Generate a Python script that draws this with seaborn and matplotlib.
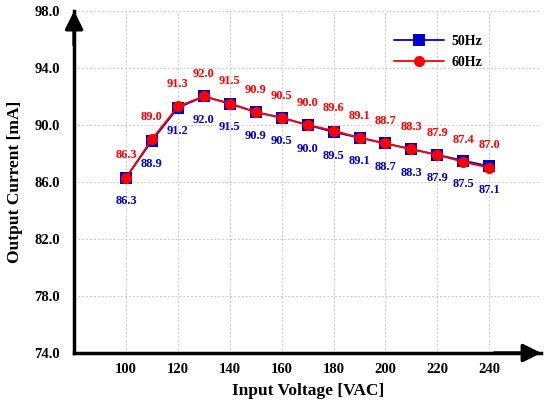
import matplotlib
matplotlib.use("Agg")
import matplotlib.pyplot as plt
import seaborn as sns
import pandas as pd

voltage = [100, 110, 120, 130, 140, 150, 160, 170, 180, 190, 200, 210, 220, 230, 240]
current_50hz = [86.3, 88.9, 91.2, 92.0, 91.5, 90.9, 90.5, 90.0, 89.5, 89.1, 88.7, 88.3, 87.9, 87.5, 87.1]
current_60hz = [86.3, 89.0, 91.3, 92.0, 91.5, 90.9, 90.5, 90.0, 89.6, 89.1, 88.7, 88.3, 87.9, 87.4, 87.0]
x_ticks = [100, 120, 140, 160, 180, 200, 220, 240]
y_ticks = [74.0, 78.0, 82.0, 86.0, 90.0, 94.0, 98.0]

sns.set_theme(style="white")
plt.rcParams['font.family'] = ['Liberation Serif', 'DejaVu Serif']
plt.rcParams['font.weight'] = 'bold'
plt.rcParams['text.color'] = 'black'
plt.rcParams['axes.labelcolor'] = 'black'
plt.rcParams['xtick.color'] = 'black'
plt.rcParams['ytick.color'] = 'black'

df = pd.DataFrame({
    "V": voltage * 2,
    "I": current_50hz + current_60hz,
    "f": ["50Hz"] * len(voltage) + ["60Hz"] * len(voltage),
})

fig = plt.figure(figsize=(5.45, 4.03), dpi=100)
ax = fig.add_axes([0.136, 0.124, 0.857, 0.849])

sns.lineplot(data=df, x="V", y="I", hue="f", style="f",
             palette={"50Hz": "#0000CC", "60Hz": "#FF0000"},
             markers={"50Hz": "s", "60Hz": "o"}, dashes=False,
             markersize=8, linewidth=1.3, markeredgewidth=0, ax=ax)

for v, a, b in zip(voltage, current_50hz, current_60hz):
    ax.annotate(f"{a:.1f}", (v, a), xytext=(0, -17), textcoords="offset points",
                ha="center", va="center", color="#0000CC", fontsize=9, fontweight="bold")
    ax.annotate(f"{b:.1f}", (v, b), xytext=(0, 16), textcoords="offset points",
                ha="center", va="center", color="#FF0000", fontsize=9, fontweight="bold")

ax.set_xlim(80, 260)
ax.set_ylim(74, 98)
ax.set_xticks([80] + x_ticks + [260])
ax.set_xticklabels([""] + [str(t) for t in x_ticks] + [""])
ax.set_yticks(y_ticks)
ax.set_yticklabels([f"{t:.1f}" for t in y_ticks])
ax.tick_params(axis="both", length=0, labelsize=10.5)
ax.tick_params(axis="x", pad=7)
ax.tick_params(axis="y", pad=10)
for lab in ax.get_xticklabels() + ax.get_yticklabels():
    lab.set_fontweight("bold")

ax.grid(True, color="#C8C8C8", linestyle=(0, (2, 2)), linewidth=0.7)
ax.set_axisbelow(True)

for s in ["top", "right"]:
    ax.spines[s].set_visible(False)
for s in ["left", "bottom"]:
    ax.spines[s].set_color("black")
    ax.spines[s].set_linewidth(2.5)
    ax.spines[s].set_zorder(5)

ax.annotate("", xy=(0, 1.0), xycoords="axes fraction", xytext=(0, 0.9),
            arrowprops=dict(arrowstyle="-|>,head_length=0.9,head_width=0.45", color="black", lw=2.5,
                            shrinkA=0, shrinkB=0),
            annotation_clip=False)
ax.annotate("", xy=(1.0, 0), xycoords="axes fraction", xytext=(0.9, 0),
            arrowprops=dict(arrowstyle="-|>,head_length=0.9,head_width=0.45", color="black", lw=2.5,
                            shrinkA=0, shrinkB=0),
            annotation_clip=False)

ax.set_xlabel("Input Voltage [VAC]", fontsize=12.5, fontweight="bold", labelpad=5)
ax.set_ylabel("Output Current [mA]", fontsize=12.5, fontweight="bold", labelpad=8)

leg = ax.legend(loc="upper right", bbox_to_anchor=(0.90, 0.965), frameon=False,
                fontsize=10, handlelength=3.6, labelspacing=0.55, handletextpad=0.5)
for t in leg.get_texts():
    t.set_fontweight("bold")

fig.savefig("out.png", dpi=100)
